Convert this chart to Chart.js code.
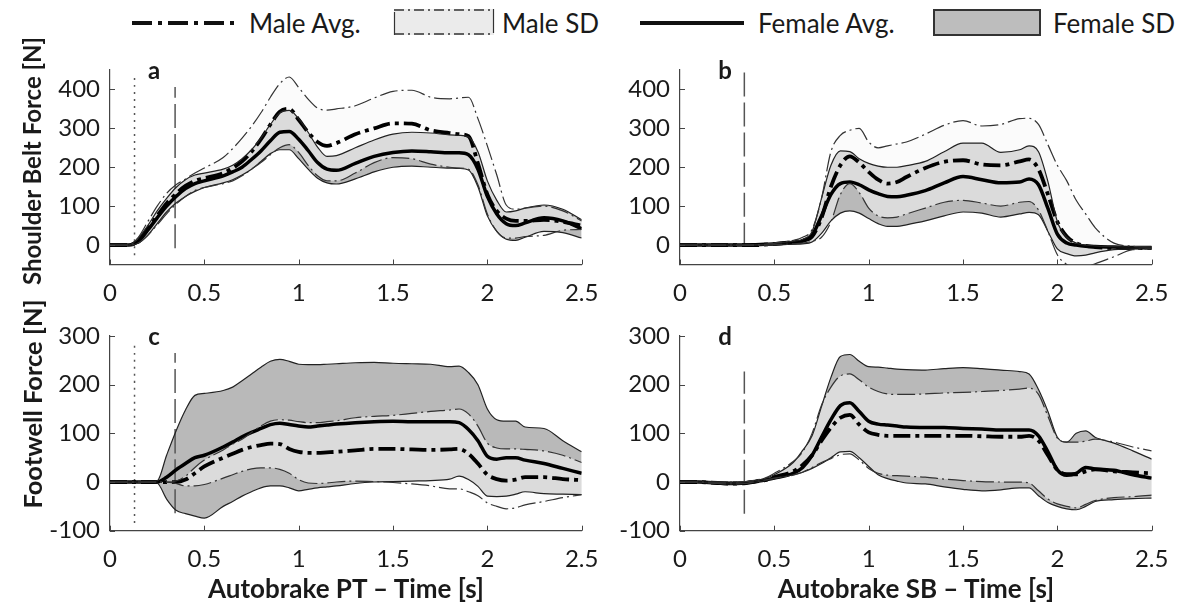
<!DOCTYPE html>
<html>
<head>
<meta charset="utf-8">
<script src="https://cdn.jsdelivr.net/npm/chart.js@4.4.1/dist/chart.umd.min.js"></script>
<style>
  body { margin: 0; background: #fff; width: 1177px; height: 604px; overflow: hidden; position: relative;
         font-family: Lato, "Open Sans", sans-serif; color: #1a1a1a; }
  canvas { position: absolute; }
  .txt { position: absolute; white-space: nowrap; font-size: 26px; line-height: 1.2; transform: translate(0, -50%); }
  .b { font-weight: 700; }
  .ctr { transform: translate(-50%, -50%); }
  .rot { transform: translate(-50%, -50%) rotate(-90deg); }
</style>
</head>
<body>

<!-- legend symbols -->
<svg width="1177" height="45" style="position:absolute;left:0;top:0">
  <line x1="132" y1="23" x2="237" y2="23" stroke="#111" stroke-width="4" stroke-dasharray="20 6 4 6"/>
  <rect x="394" y="9" width="100" height="26" fill="#ebebeb"/>
  <line x1="394" y1="10" x2="494" y2="10" stroke="#333" stroke-width="1.5" stroke-dasharray="10 4 2 4"/>
  <line x1="394" y1="34" x2="494" y2="34" stroke="#333" stroke-width="1.5" stroke-dasharray="10 4 2 4"/>
  <line x1="394.5" y1="12" x2="394.5" y2="35" stroke="#333" stroke-width="1.2"/>
  <line x1="493.5" y1="9" x2="493.5" y2="33" stroke="#333" stroke-width="1.2"/>
  <line x1="640" y1="23" x2="744" y2="23" stroke="#111" stroke-width="4"/>
  <rect x="934" y="10" width="106" height="25" fill="#bdbdbd" stroke="#333" stroke-width="2"/>
</svg>
<div class="txt" style="left:249px;top:24px">Male Avg.</div>
<div class="txt" style="left:502px;top:24px">Male SD</div>
<div class="txt" style="left:758px;top:24px">Female Avg.</div>
<div class="txt" style="left:1053px;top:24px">Female SD</div>

<canvas id="chartA" width="600" height="270" style="left:0;top:40px"></canvas>
<canvas id="chartB" width="577" height="270" style="left:600px;top:40px"></canvas>
<canvas id="chartC" width="600" height="294" style="left:0;top:310px"></canvas>
<canvas id="chartD" width="577" height="294" style="left:600px;top:310px"></canvas>

<div class="txt b rot" style="left:32px;top:161px;font-size:24px">Shoulder Belt Force [N]</div>
<div class="txt b rot" style="left:32px;top:404px;font-size:25.5px">Footwell Force [N]</div>
<div class="txt b ctr" style="left:346px;top:589px">Autobrake PT – Time [s]</div>
<div class="txt b ctr" style="left:916px;top:589px">Autobrake SB – Time [s]</div>
<div class="txt b ctr" style="left:154px;top:70px;font-size:24px">a</div>
<div class="txt b ctr" style="left:725px;top:70px;font-size:24px">b</div>
<div class="txt b ctr" style="left:154px;top:336px;font-size:24px">c</div>
<div class="txt b ctr" style="left:725px;top:336px;font-size:24px">d</div>

<script>
// ---------- data ----------
const times = [0, 0.1, 0.15, 0.2, 0.25, 0.3, 0.35, 0.4, 0.45, 0.5, 0.6, 0.65, 0.7, 0.75, 0.8, 0.85, 0.9, 0.95,
  1.0, 1.05, 1.1, 1.15, 1.2, 1.3, 1.4, 1.5, 1.6, 1.7, 1.8, 1.85, 1.9, 1.95, 2.0, 2.05, 2.1, 2.15, 2.2, 2.3, 2.4, 2.5];

const xTicks = [0, 0.5, 1, 1.5, 2, 2.5];
const beltTicks = [0, 100, 200, 300, 400];
const footTicks = [-100, 0, 100, 200, 300];
const beltRange = [-50, 450];
const footRange = [-100, 300];

// a: shoulder belt, autobrake PT
const femaleAvgA = [0, 0, 10, 38, 70, 100, 125, 145, 158, 165, 178, 188, 200, 220, 242, 268, 290, 292, 272, 243, 212, 195, 192, 210, 228, 238, 242, 240, 237, 237, 232, 195, 125, 80, 55, 50, 57, 70, 62, 42];
const femaleUpA  = [0, 0, 18, 50, 88, 120, 148, 168, 180, 185, 195, 205, 222, 245, 275, 310, 340, 346, 325, 290, 252, 228, 230, 250, 270, 285, 290, 288, 283, 282, 278, 240, 165, 115, 85, 88, 95, 103, 92, 65];
const femaleLoA  = [0, 0, 5, 25, 55, 85, 108, 125, 138, 148, 160, 168, 180, 195, 215, 235, 245, 245, 222, 195, 172, 160, 157, 170, 188, 200, 203, 200, 198, 197, 193, 150, 75, 35, 15, 12, 20, 35, 32, 18];
const maleAvgA   = [0, 0, 12, 42, 75, 107, 132, 152, 165, 172, 185, 198, 215, 240, 272, 310, 343, 350, 322, 290, 265, 255, 262, 285, 300, 313, 312, 295, 288, 285, 280, 210, 130, 88, 68, 62, 62, 65, 60, 50];
const maleUpA    = [0, 0, 20, 60, 100, 133, 155, 170, 185, 198, 225, 248, 275, 305, 340, 380, 415, 432, 405, 375, 352, 347, 350, 358, 378, 395, 398, 380, 376, 378, 380, 325, 255, 180, 103, 92, 95, 100, 88, 62];
const maleLoA    = [0, 0, 5, 25, 52, 80, 105, 125, 140, 148, 158, 165, 178, 195, 212, 232, 250, 258, 238, 205, 178, 165, 165, 185, 212, 225, 222, 208, 200, 198, 195, 155, 80, 35, 18, 18, 22, 25, 38, 40];

// b: shoulder belt, autobrake SB
const femaleAvgB = [0, 0, 0, 0, 0, 0, 0, 1, 2, 3, 6, 10, 25, 75, 130, 158, 162, 155, 142, 132, 125, 124, 128, 140, 160, 176, 168, 160, 162, 170, 155, 94, 28, 5, 0, -3, -4, -5, -6, -6];
const femaleUpB  = [0, 0, 0, 0, 0, 0, 0, 1, 2, 4, 10, 15, 35, 120, 205, 242, 240, 222, 210, 203, 200, 200, 204, 215, 240, 262, 262, 238, 245, 255, 240, 163, 60, 20, 5, 0, -2, -4, -5, -5];
const femaleLoB  = [0, 0, 0, 0, 0, 0, 0, 0, 0, 1, 2, 3, 8, 30, 62, 82, 88, 82, 68, 55, 48, 48, 52, 62, 75, 85, 82, 72, 80, 84, 78, 35, -10, -22, -28, -26, -20, -12, -10, -10];
const maleAvgB   = [0, 0, 0, 0, 0, 0, 0, 0, 1, 3, 8, 12, 22, 70, 150, 205, 228, 212, 188, 168, 158, 162, 175, 198, 214, 218, 207, 205, 215, 220, 195, 130, 60, 22, 5, -2, -5, -8, -8, -8];
const maleUpB    = [0, 0, 0, 0, 0, 0, 0, 1, 2, 5, 12, 20, 40, 120, 240, 282, 295, 300, 265, 250, 255, 260, 265, 285, 308, 320, 306, 310, 325, 326, 310, 258, 205, 165, 115, 80, 45, 5, -3, -5];
const maleLoB    = [0, 0, 0, 0, 0, 0, 0, 0, 0, 1, 3, 5, 10, 20, 60, 130, 158, 135, 95, 75, 70, 72, 80, 95, 110, 115, 108, 100, 110, 112, 90, 35, -25, -50, -58, -56, -48, -30, -12, -10];

// c: footwell, autobrake PT
const femaleAvgC = [0, 0, 0, 0, 0, 10, 25, 38, 50, 55, 72, 82, 93, 102, 110, 118, 121, 118, 115, 113, 115, 117, 119, 122, 124, 125, 124, 124, 124, 122, 108, 85, 53, 47, 50, 50, 45, 38, 28, 18];
const femaleUpC  = [0, 0, 0, 0, 2, 55, 105, 148, 178, 182, 188, 195, 208, 222, 236, 248, 252, 248, 242, 241, 241, 242, 243, 245, 246, 244, 243, 242, 237, 238, 225, 200, 150, 128, 125, 125, 113, 110, 85, 62];
const femaleLoC  = [0, 0, 0, 0, -2, -35, -58, -65, -70, -74, -50, -40, -29, -20, -12, -8, -8, -12, -18, -15, -12, -10, -8, -3, 0, 1, 2, 3, 6, 12, 5, -9, -29, -30, -29, -25, -20, -24, -25, -26];
const maleAvgC   = [0, 0, 0, 0, 0, 0, 0, 5, 18, 32, 50, 58, 66, 72, 76, 79, 78, 68, 62, 60, 60, 61, 62, 65, 68, 68, 67, 66, 67, 68, 58, 38, 15, 6, 3, 5, 10, 10, 6, 4];
const maleUpC    = [0, 0, 0, 0, 0, 0, 2, 12, 30, 45, 66, 78, 88, 102, 115, 125, 128, 127, 124, 122, 122, 124, 126, 132, 135, 137, 141, 145, 148, 150, 140, 115, 80, 70, 68, 68, 67, 64, 55, 40];
const maleLoC    = [0, 0, 0, 0, 0, 0, -3, -8, -8, -5, 8, 15, 22, 27, 29, 29, 26, 18, 5, -2, -3, -2, 0, 2, 1, -1, -4, -8, -14, -14, -20, -28, -43, -50, -55, -53, -47, -40, -32, -26];

// d: footwell, autobrake SB
const femaleAvgD = [0, 0, -1, -2, -3, -3, -2, 1, 4, 8, 18, 30, 55, 92, 128, 157, 163, 145, 125, 119, 117, 115, 113, 112, 112, 110, 109, 107, 107, 107, 95, 62, 25, 14, 18, 30, 27, 24, 15, 8];
const femaleUpD  = [0, 0, 0, 0, 0, 0, 1, 3, 7, 15, 40, 65, 95, 155, 215, 258, 262, 248, 237, 236, 234, 232, 231, 230, 233, 235, 233, 230, 227, 222, 190, 145, 92, 82, 100, 105, 92, 80, 64, 47];
const femaleLoD  = [0, 0, -2, -3, -4, -4, -3, 0, 3, 7, 15, 20, 28, 38, 50, 62, 63, 50, 32, 15, 7, 2, -2, -4, -10, -15, -18, -16, -12, -12, -28, -42, -50, -55, -57, -50, -40, -36, -34, -33];
const maleAvgD   = [0, 0, -1, -2, -3, -3, -2, 1, 4, 10, 22, 35, 55, 85, 112, 132, 138, 118, 102, 97, 95, 95, 95, 95, 95, 95, 94, 93, 93, 95, 85, 55, 25, 16, 16, 22, 26, 22, 20, 18];
const maleUpD    = [0, 0, 0, 0, 0, 0, 1, 4, 8, 18, 42, 62, 100, 158, 195, 218, 222, 210, 195, 186, 181, 180, 180, 181, 183, 184, 186, 188, 191, 193, 180, 135, 90, 82, 82, 84, 88, 82, 72, 64];
const maleLoD    = [0, 0, -2, -3, -4, -4, -3, 1, 4, 8, 14, 20, 30, 40, 48, 56, 58, 45, 28, 18, 14, 13, 12, 10, 6, 3, 1, 0, 0, -2, -18, -35, -45, -50, -53, -46, -38, -32, -30, -27];

// event markers: time and vertical extent [from, to]
const tDottedPT = 0.13, tDashedPT = 0.345, tDashedSB = 0.341;
const dottedSpanA = [-26, 437], dashedSpanA = [-8, 406];
const dashedSpanB = [-4, 450];
const dottedSpanC = [-84, 290], dashedSpanC = [-64, 265];
const dashedSpanD = [-65, 227];

/*************************************************
 * helpers
 *************************************************/
const FEMALE_FILL = '#b9b9b9';
const MALE_FILL = 'rgba(248,248,248,0.55)';
const tickFont = { family: 'Lato', size: 24 };

function pts(vals) {
  return times.map((t, i) => ({ x: t, y: vals[i] }));
}

function vline(t, span, dash, width) {
  return {
    data: [{ x: t, y: span[0] }, { x: t, y: span[1] }],
    borderColor: '#555', borderWidth: width, borderDash: dash, fill: false, tension: 0
  };
}

// small tick marks pointing into the plot
const innerTicks = {
  id: 'innerTicks',
  afterDraw(chart) {
    const { ctx, chartArea: a, scales: { x, y } } = chart;
    ctx.save();
    ctx.strokeStyle = '#444';
    ctx.lineWidth = 1;
    ctx.beginPath();
    x.ticks.forEach(t => {
      const px = Math.round(x.getPixelForValue(t.value)) + 0.5;
      ctx.moveTo(px, a.bottom); ctx.lineTo(px, a.bottom - 5);
    });
    y.ticks.forEach(t => {
      const py = Math.round(y.getPixelForValue(t.value)) + 0.5;
      ctx.moveTo(a.left, py); ctx.lineTo(a.left + 5, py);
    });
    ctx.stroke();
    ctx.restore();
  }
};

function makePanel(id, s, range, yTicks, yWidth, xHeight, pad, refs) {
  const sdDash = [18, 4, 2, 4];
  const datasets = [
    { data: pts(s.mUp), borderColor: '#333', borderWidth: 1.2, borderDash: sdDash, fill: '+1', backgroundColor: MALE_FILL },
    { data: pts(s.mLo), borderColor: '#333', borderWidth: 1.2, borderDash: sdDash, fill: false },
    { data: pts(s.fUp), borderColor: '#222', borderWidth: 1.2, fill: '+1', backgroundColor: FEMALE_FILL },
    { data: pts(s.fLo), borderColor: '#222', borderWidth: 1.2, fill: false },
    { data: pts(s.fAvg), borderColor: '#000', borderWidth: 3.5, fill: false },
    { data: pts(s.mAvg), borderColor: '#000', borderWidth: 3.8, borderDash: [17, 5, 4, 5], fill: false }
  ].concat(refs);

  return new Chart(document.getElementById(id), {
    type: 'line',
    data: { datasets },
    options: {
      responsive: false,
      animation: false,
      layout: { padding: pad },
      elements: {
        point: { radius: 0 },
        line: { tension: 0.4, cubicInterpolationMode: 'monotone' }
      },
      plugins: {
        legend: { display: false },
        tooltip: { enabled: false },
        filler: { drawTime: 'beforeDatasetsDraw' }
      },
      scales: {
        x: {
          type: 'linear', min: 0, max: 2.5,
          afterBuildTicks: sc => { sc.ticks = xTicks.map(v => ({ value: v })); },
          afterFit: sc => { sc.height = xHeight; sc.paddingLeft = 0; sc.paddingRight = 0; },
          ticks: { font: tickFont, color: '#1a1a1a', padding: 14, autoSkip: false, maxRotation: 0, callback: v => String(v) },
          grid: { display: false, drawTicks: false },
          border: { color: '#444', width: 1.2 }
        },
        y: {
          type: 'linear', min: range[0], max: range[1],
          afterBuildTicks: sc => { sc.ticks = yTicks.map(v => ({ value: v })); },
          afterFit: sc => { sc.width = yWidth; sc.paddingTop = 0; sc.paddingBottom = 0; },
          ticks: { font: tickFont, color: '#1a1a1a', padding: 10, autoSkip: false, callback: v => String(v) },
          grid: { display: false, drawTicks: false },
          border: { color: '#444', width: 1.2 }
        }
      }
    },
    plugins: [innerTicks]
  });
}

makePanel('chartA',
  { fAvg: femaleAvgA, fUp: femaleUpA, fLo: femaleLoA, mAvg: maleAvgA, mUp: maleUpA, mLo: maleLoA },
  beltRange, beltTicks, 110, 45.5, { left: 0, top: 30, right: 18.3, bottom: 0 },
  [vline(tDottedPT, dottedSpanA, [2, 5], 1.5), vline(tDashedPT, dashedSpanA, [24, 6], 1.5)]);

makePanel('chartB',
  { fAvg: femaleAvgB, fUp: femaleUpB, fLo: femaleLoB, mAvg: maleAvgB, mUp: maleUpB, mLo: maleLoB },
  beltRange, beltTicks, 80, 45.5, { left: 0, top: 30, right: 25.3, bottom: 0 },
  [vline(tDashedSB, dashedSpanB, [24, 6], 1.5)]);

makePanel('chartC',
  { fAvg: femaleAvgC, fUp: femaleUpC, fLo: femaleLoC, mAvg: maleAvgC, mUp: maleUpC, mLo: maleLoC },
  footRange, footTicks, 110, 50, { left: 0, top: 26, right: 18.3, bottom: 23.3 },
  [vline(tDottedPT, dottedSpanC, [2, 5], 1.5), vline(tDashedPT, dashedSpanC, [24, 6], 1.5)]);

makePanel('chartD',
  { fAvg: femaleAvgD, fUp: femaleUpD, fLo: femaleLoD, mAvg: maleAvgD, mUp: maleUpD, mLo: maleLoD },
  footRange, footTicks, 80, 50, { left: 0, top: 26, right: 25.3, bottom: 23.3 },
  [vline(tDashedSB, dashedSpanD, [24, 6], 1.5)]);
</script>
</body>
</html>
